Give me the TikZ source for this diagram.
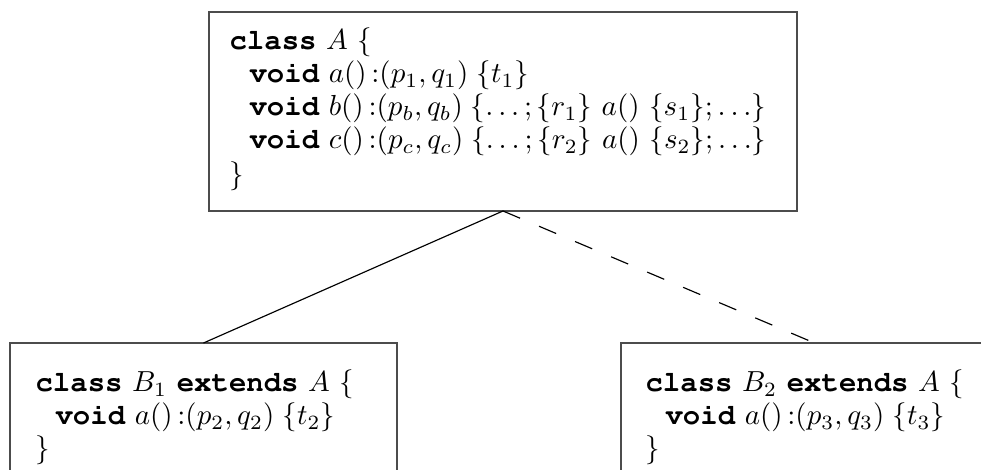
\documentclass[tikz,border=0pt]{standalone}
\usepackage[T1,TU]{fontenc}
\newcommand\kw[1]{{\fontencoding{T1}\fontfamily{pcr}\fontseries{b}\selectfont #1}}
\begin{document}
\begin{tikzpicture}[x=0.345pt,y=-0.345pt,
  box/.style={draw=black!70,line width=0.5pt,rectangle,inner sep=0pt,outer sep=0pt,anchor=north west},
  codeline/.style={anchor=base west,inner sep=0pt,font=\fontsize{10}{12}\selectfont},
  link/.style={draw=black,line width=0.4pt},
  dlink/.style={link,dash pattern=on 6.4pt off 7.1pt}]
\useasboundingbox (0,0) rectangle (981,470);
\clip (0,0) rectangle (981,470);
% boxes
\node[box,minimum width={588*0.345pt},minimum height={199*0.345pt}] (A) at (209,12) {};
\node[box,minimum width={387*0.345pt},minimum height={220*0.345pt}] (B1) at (10,343) {};
\node[box,minimum width={387*0.345pt},minimum height={220*0.345pt}] (B2) at (621,343) {};
% class A
\node[codeline] (a1) at (229,50) {\kw{class} $A$ $\{$};
\node[codeline] (a2) at (249,83) {\kw{void} $a()\,{:}(p_1,q_1)\;\{t_1\}$};
\node[codeline] (a3) at (249,116) {\kw{void} $b()\,{:}(p_b,q_b)\;\{\ldots;\{r_1\}\ a()\ \{s_1\};\ldots\}$};
\node[codeline] (a4) at (249,149) {\kw{void} $c()\,{:}(p_c,q_c)\;\{\ldots;\{r_2\}\ a()\ \{s_2\};\ldots\}$};
\node[codeline] (a5) at (229,184) {$\}$};
% class B1
\node[codeline] (b1) at (35,392) {\kw{class} $B_1$ \kw{extends} $A$ $\{$};
\node[codeline] (b2) at (55,425) {\kw{void} $a()\,{:}(p_2,q_2)\;\{t_2\}$};
\node[codeline] (b3) at (35,458) {$\}$};
% class B2
\node[codeline] (c1) at (645,392) {\kw{class} $B_2$ \kw{extends} $A$ $\{$};
\node[codeline] (c2) at (665,425) {\kw{void} $a()\,{:}(p_3,q_3)\;\{t_3\}$};
\node[codeline] (c3) at (645,458) {$\}$};
% connectors
\draw[link] (A.south) -- (B1.north);
\draw[dlink] (A.south) -- (B2.north);
\end{tikzpicture}
\end{document}
